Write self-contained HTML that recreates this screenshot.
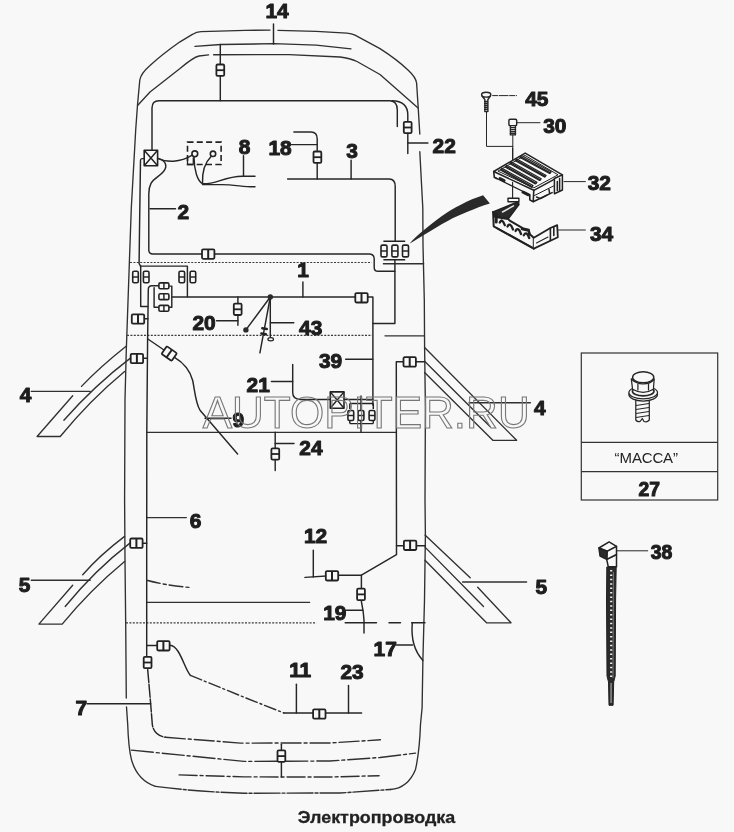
<!DOCTYPE html>
<html lang="ru">
<head>
<meta charset="utf-8">
<title>Электропроводка</title>
<style>
html,body{margin:0;padding:0;background:#f8f8f8;}
body{width:734px;height:832px;overflow:hidden;font-family:"Liberation Sans",sans-serif;}
svg{display:block;position:absolute;left:0;top:0;will-change:transform;}
.b{fill:none;stroke:#303030;stroke-width:1.35;stroke-linecap:round;stroke-linejoin:round;}
.w{fill:none;stroke:#262626;stroke-width:1.45;stroke-linecap:round;stroke-linejoin:round;}
.c{fill:#f8f8f8;stroke:#222;stroke-width:1.6;stroke-linejoin:round;}
.cl{fill:none;stroke:#222;stroke-width:1.45;}
.d{fill:none;stroke:#3c3c3c;stroke-width:1.15;stroke-dasharray:2 1.4;}
.dd{fill:none;stroke:#303030;stroke-width:1.4;stroke-dasharray:9 3 2 3;stroke-linecap:round;}
.n{font-family:"Liberation Sans",sans-serif;font-weight:bold;font-size:20.9px;fill:#1e1e1e;stroke:#1e1e1e;stroke-width:1.05;stroke-linejoin:round;text-anchor:middle;}
.k{fill:#2a2a2a;stroke:none;}
</style>
</head>
<body>
<svg width="734" height="832" viewBox="0 0 734 832">
<defs>
  <g id="ch"><rect class="c" x="-6.2" y="-4.7" width="12.4" height="9.4" rx="1.2" style="stroke-width:1.8"/><path class="cl" d="M0-4.7V4.7" style="stroke-width:2"/></g>
  <g id="cv"><rect class="c" x="-3.9" y="-5.7" width="7.8" height="11.4" rx="1.2" style="stroke-width:1.8"/><path class="cl" d="M-3.9 0H3.9" style="stroke-width:1.8"/></g>
  <g id="cp"><rect class="c" x="-2.8" y="-5.7" width="5.6" height="11.4" rx="1.4"/><path class="cl" d="M-2.8 0H2.8"/></g>
  <g id="ct"><rect class="c" x="-5" y="-2.95" width="10" height="5.9" rx="1.4"/><path class="cl" d="M0-2.95V2.95"/></g>
  <g id="c3"><rect class="c" x="-3" y="-5.9" width="6" height="11.8" rx="1.5"/><path class="cl" d="M-3 0H3"/></g>
  <g id="c3b"><rect class="c" x="-2.9" y="-5" width="5.8" height="10" rx="1.5"/><path class="cl" d="M-2.9 0H2.9"/></g>
</defs>
<!--BODY-->
<g class="b">
  <!-- outer roof + left side + bottom + right side -->
  <path d="M270 30.1 L245.4 30.4 L201 31.7 Q196.3 32 192.8 34.2 L180 41.8 Q162 54.5 150 65.5 Q140.8 73.5 139.8 80 L137.5 105 L135.7 130 L131.3 208 L129.8 250 L126.3 350 L125 400 L124.6 500 L125 560 L125.7 624 L126.3 698 M126.5 707 L127.7 724.3 Q128.5 748 131.4 759.4 Q137 780 155.3 786.4"/>
  <path d="M278 30.4 L316.2 31.4 L347 33.1 Q351.7 33.5 355 35.2 L380 48.6 Q397 59.5 408 70 Q416 77.5 416.6 83 L418.2 107.8 L419.8 134"/>
  <path d="M419.8 151.7 L422.8 208 L423 245 L424.3 300 L424.6 347 L425.4 408 L425 500 L425.4 535 L424.5 600 L422.9 660 L422.1 708 L420.5 724.3 Q419.5 752 415.5 769.4 Q408 788 390.4 789.5"/>
  <!-- second roof line (14) -->
  <path d="M195 46.4 L220.9 44.5 L274 43.7 L316.2 45.1 L351 48.8"/>
  <!-- inner windshield line -->
  <path d="M137.8 105.3 L150 92 L180 68.5 Q193 57.5 199 56 L208.6 54.9"/>
  <path d="M213.6 54.7 L289 54.6 L340 57 Q350 58.2 357 61.5 L380 74.5 L417.8 107.8"/>
  <!-- horizontals inside cabin -->
  <path d="M147 432.3 H396.3"/>
  <path d="M147 602.4 H309.6"/>
  <path d="M147 517.6 H186.4"/>
</g>
<g class="dd">
  <!-- bottom (rear) lines -->
  <path d="M155.3 786.4 Q200 792 244 793.2 L340 793 L390.4 789.5" style="stroke-dasharray:26 2 3 2"/>
  <path d="M131.4 750.1 L244 761.4 L330 761 L380 757.5 L415.5 753.1" style="stroke-dasharray:22 3 3 3"/>
  <path d="M179.1 774.9 L244 776.9 L330 777 L379.1 775.7" style="stroke-dasharray:18 3 3 3"/>
</g>
<g class="d">
  <path d="M130 262.5 H371.6"/>
  <path d="M127 335.3 H372"/>
  <path d="M126 622.9 H316.5"/>
</g>
<g class="b">
  <path d="M383.4 263.7 H423.6"/>
  <path d="M385 335.8 H424.3"/>
</g>
<!--WIRES-->
<g class="w">
  <!-- 14 leader + roof connector -->
  <path d="M273.5 24 V44"/>
  <path d="M220.3 44.5 V100.8"/>
  <!-- upper cabin horizontal with rounded ends -->
  <path d="M152 150 V108 Q152 100.8 159 100.8 H390 Q397.3 101.2 397.3 110 V126.6"/>
  <path d="M392 100.8 Q407.8 101.2 407.8 115 V153.4"/>
  <path d="M407.8 142.9 H427.9"/>
  <!-- X box hook -->
  <path d="M144.2 158.6 H142 Q140.5 158.6 140.5 160.5 L139.5 230 L139.1 263.6 L140.6 266.1"/>
  <!-- X box to dashed box -->
  <path d="M157.8 158.4 C166 162.5 180 163 192.2 155.2"/>
  <!-- wire 2 -->
  <path d="M157.8 158.4 C164 159.5 167 164 165.3 168.5 C163 175 154 177.5 151 183.4 Q148.8 187.5 148.8 194 V250 Q148.8 254 153 254 H369.8 Q374.2 254.4 374.2 258.8 V267.5 Q374.2 271.3 378 271.3 H394.9"/>
  <path d="M150 208.7 H175.5"/>
  <!-- wires from circles (8) -->
  <path d="M194 156.7 C194 170 197.5 181 202.5 183.6"/>
  <path d="M211.3 156.3 C205.5 162 202 172 202.5 183.6"/>
  <path d="M202.5 183.8 C216 184.5 224 176.5 242.5 176.3 L255 176.3"/>
  <path d="M202.5 184.6 L221.5 184.6 C235 184.6 245 187.3 255 186.8"/>
  <path d="M243.5 155.7 V176.3"/>
  <!-- 18 -->
  <path d="M293.9 132 H311 Q317.2 132 317.2 138.8 V178.9"/>
  <path d="M291.4 144.6 H317.2"/>
  <!-- wire 3 -->
  <path d="M287.6 178.9 H389.2 Q395.2 178.9 395.2 186.4 V241.3"/>
  <path d="M351.1 160.1 V178.9"/>
  <!-- below triple connector -->
  <path d="M394.9 259.7 V323.4 H372.9"/>
  <!-- wire 1 -->
  <path d="M171.8 296.9 H372.9 V405"/>
  <path d="M302.9 282 V297"/>
  <!-- node 43 -->
  <path d="M270.3 297 L245.9 329.9"/>
  <path d="M270.3 297 L259.9 352.9"/>
  <path d="M270.3 297 V336.8"/>
  <path d="M270.4 322.8 H293.8"/>
  <!-- 20 -->
  <path d="M237.9 296.9 V325.3"/>
  <path d="M216.5 320.8 H237.9"/>
  <!-- connector pairs -->
  <path d="M140.4 266.1 H187.4 V296.7"/>
  <path d="M140.7 266.1 V306.5 H147.9"/>
  <!-- main left harness (6) -->
  <path d="M158 285.7 H151.8 Q148.3 285.7 148.3 289.5 L147.6 340 L146.8 432 L146.7 560 V655.4"/>
  <path d="M158 307.2 H154.1 V287.6"/>
  <path d="M169.7 286.1 H171.8 V307.2 H169.7"/>
  <path d="M144.5 318.8 H148"/>
  <path d="M143.6 358.3 H147.3"/>
  <path d="M143 543.2 H146.7"/>
  <!-- wire 9 -->
  <path d="M147.9 339 L164 350 M174.5 357.3 C185 363.5 190.5 372 192.7 380.5 C195 392 195.5 403 200 410.2 L237.6 454"/>
  <path d="M205 418.2 H231"/>
  <!-- wire 21 -->
  <path d="M292.7 364.4 V392.6 Q292.7 399.4 300.3 399.4 H372.8 M361 396 V432.3"/>
  <path d="M271.4 381.5 H292.7"/>
  <path d="M345.7 359.2 H372.8"/>
  <!-- 24 -->
  <path d="M275.2 432.3 V470.4"/>
  <path d="M275.2 443.5 H294"/>
  <!-- right side harness -->
  <path d="M424.6 361.8 H396.3 L396.5 554.7 L361.4 575.2 H338 L305 577.4"/>
  <path d="M396.5 545.7 H425.4"/>
  <path d="M313.3 550.1 V577"/>
  <!-- 19 -->
  <path d="M361.4 575.2 V601.5 Q363.6 612 364 620.3 V632.9"/>
  <path d="M346.4 610.3 H362.7"/>
  <!-- 17 -->
  <path d="M412.3 622.8 C410.8 640 415 652 422.9 660.4"/>
  <path d="M396.5 645 H412.6"/>
  <!-- lower-left -->
  <path d="M147.3 645.4 H160"/>
  <path d="M170 645.3 C180 646 184 668 190.4 675.4"/>
  <path d="M283.9 713 H361.6"/>
  <path d="M296.4 684.2 V713"/>
  <path d="M348.5 685.4 V713"/>
  <path d="M147.7 669.6 L150.7 704.2 L152.3 724.3 Q153.6 735 165.3 737.3" style="stroke-dasharray:13 1.8"/>
  <path d="M87.1 703.7 H150.7"/>
  <path d="M281.4 744.3 V776.9"/>
  <!-- leaders 6 handled in body -->
</g>
<g class="dd">
  <path d="M190.4 675.4 L244 697.2 L283.9 713" style="stroke-dasharray:12 3 2 3"/>
  <path d="M165.3 737.3 L240.5 743.1 L330 743 L380.4 739.8" style="stroke-dasharray:20 3 3 3"/>
  <path d="M146.7 580.3 Q165 585.2 188.9 587.4" style="stroke-dasharray:14 3 3 3"/>
</g>
<g class="w">
  <path d="M345.2 622.8 H376.5 M389 622.8 H400.5 M411.7 622.8 H425"/>
</g>
<!-- doors -->
<g class="b">
  <path d="M126.1 346.3 Q100 367 81.5 386.4 M72.7 395.7 L37.1 436.5 H60.2 Q90 400 124.6 371.4"/>
  <path d="M130.4 358.1 Q95 385 63.9 420.2"/>
  <path d="M31.3 391.4 H90.2"/>
  <path d="M424.6 347.5 L516.6 440.3 H492.8 L424.6 372.6"/>
  <path d="M424.6 361.3 L490 426.5"/>
  <path d="M469 402.7 H530.4"/>
  <path d="M124.6 536.4 Q100 555 82.7 574.7 M72.7 585.2 L38.9 624.1 H62.2 Q90 590 124.6 561.4"/>
  <path d="M129.9 543.1 Q95 570 65.2 606.5"/>
  <path d="M31.3 580.2 H90.2"/>
  <path d="M425 535.1 L470.2 577.7 M477.7 587.2 L511 622.8 H486.5 L425 560.2"/>
  <path d="M425 547.1 L483.5 606.5"/>
  <path d="M462.6 582 H526.6"/>
</g>
<!--CONN-->
<g>
  <use href="#cv" x="220.3" y="70.2"/>
  <use href="#cv" x="407.7" y="127.5"/>
  <use href="#cv" x="317.4" y="157.2"/>
  <use href="#ch" x="208.2" y="254.1"/>
  <use href="#ch" x="361.5" y="297.8"/>
  <use href="#cv" x="237.7" y="309.3"/>
  <use href="#cp" x="135.5" y="277"/><use href="#cp" x="146.2" y="277"/>
  <use href="#cp" x="181.8" y="277"/><use href="#cp" x="192.9" y="277"/>
  <use href="#ct" x="163.9" y="285.8"/><use href="#ct" x="163.9" y="296.7"/><use href="#ct" x="163.9" y="308.3"/>
  <use href="#ch" x="138" y="319"/>
  <use href="#ch" x="136.9" y="358.5"/>
  <use href="#ch" x="136.4" y="543.2"/>
  <use href="#ch" transform="translate(169.2 353.6) rotate(35)"/>
  <use href="#cv" x="275.3" y="454"/>
  <use href="#ch" x="409.7" y="361.9"/>
  <use href="#ch" x="410.1" y="545.3"/>
  <use href="#ch" x="332" y="575.8"/>
  <use href="#cv" x="361" y="594.4"/>
  <use href="#ch" x="163.4" y="645.8"/>
  <use href="#cv" x="147.6" y="662.5"/>
  <use href="#ch" x="319.3" y="714"/>
  <use href="#cv" x="281.4" y="756.1"/>
  <!-- triple connectors (horizontal) -->
  <path class="cl" d="M383.4 241.3 H405.2 M383.4 259.7 H405.2"/>
  <use href="#c3" x="384" y="251"/><use href="#c3" x="394.9" y="251"/><use href="#c3" x="405.5" y="251"/>
  <path class="cl" d="M349.8 403.4 H373.3 M349.8 423.6 H373.3 M349.8 403.4 V409 M373.3 403.4 V409 M349.8 423.6 V420 M373.3 423.6 V420"/>
  <use href="#c3b" x="350.8" y="415.5"/><use href="#c3b" x="361" y="415.5"/><use href="#c3b" x="372" y="415.5"/>
  <!-- X boxes -->
  <rect class="c" x="144.2" y="150.2" width="13.4" height="15.6"/><path class="cl" d="M144.2 150.2 L157.6 165.8 M157.6 150.2 L144.2 165.8"/>
  <rect class="c" x="330.3" y="391.9" width="13.7" height="16.3"/><path class="cl" d="M330.3 391.9 L344 408.2 M344 391.9 L330.3 408.2"/>
  <!-- dashed box + circles -->
  <rect x="187.5" y="142.1" width="33.6" height="22.4" fill="none" stroke="#222" stroke-width="1.6" stroke-dasharray="6 3.3"/>
  <path class="cl" d="M193.3 157.5 V164.5 M187.5 158 V164.5 H193.3" style="stroke-width:1.3"/><circle class="c" cx="194.8" cy="153.8" r="2.9"/><circle class="c" cx="213" cy="153.8" r="2.7"/>
  <!-- node dots -->
  <circle class="k" cx="270.3" cy="297" r="2.7"/><circle class="k" cx="245.9" cy="329.9" r="2.7"/>
  <ellipse cx="270.7" cy="339.3" rx="2.8" ry="1.6" fill="#f8f8f8" stroke="#222" stroke-width="1.2"/>
  <path d="M262.3 328.3 L266.8 329 M261.4 333.5 L265.9 334.2" stroke="#222" stroke-width="2.5" stroke-linecap="round" fill="none"/>
</g>
<!--PARTS-->
<!-- wedge pointer -->
<path class="k" d="M409.5 243.8 C414 238.5 418 235 421.8 231.8 C428 227 434 221.5 440.9 216.8 C447 212.5 454 208 461.3 204.5 C468 201 476 197.5 483.1 195.3 L489.9 203.4 C482 205.5 475 208.5 468.1 211.6 C461 214.5 454 217.5 447.7 220.9 C440 225 433 229.3 427.2 233.1 C421 237 415 240.5 409.5 243.8 Z"/>
<!-- MACCA box -->
<g fill="none" stroke="#333" stroke-width="1.2">
  <rect x="581.3" y="353" width="136.4" height="147"/>
  <path d="M581.3 442.4 H717.7 M581.3 471.6 H717.7"/>
</g>
<!-- screw 45 -->
<g class="w">
  <ellipse cx="486.2" cy="94.7" rx="4.6" ry="2.4" fill="#f8f8f8"/>
  <path d="M482 96 L484.8 99.5 V111.5 M490.4 96 L487.9 99.5 V111.5 M484.6 101.5 H488 M484.6 103.5 H488 M484.6 105.5 H488 M484.6 107.5 H488 M484.6 109.5 H488 M484.8 111.6 H487.9" style="stroke-width:1.4"/>
  <path d="M486.5 112 V146.4 H512.8" style="stroke-width:1"/>
  <path d="M492.6 95.6 H516.5" style="stroke-width:1;stroke-dasharray:5 1.5 9 1.5"/>
  <!-- bolt 30 -->
  <rect x="508.9" y="119.2" width="7.8" height="6.4" rx="1.2" fill="#f8f8f8"/>
  <path d="M510.4 125.6 V134.6 M515.4 125.6 V134.6 M510.2 127.6 H515.6 M510.2 129.6 H515.6 M510.2 131.6 H515.6 M510.2 133.4 H515.6 M510.4 134.9 H515.4" style="stroke-width:1.4"/>
  <path d="M512.8 135 V159 M517 122.7 H540" style="stroke-width:1"/>
  <path d="M564 181.6 H585.4 M557.8 230 H585.4" style="stroke-width:1"/>
  <path d="M616.9 550.8 H647.7" style="stroke-width:1"/>
</g>
<!-- box 32 -->
<g stroke="#222" stroke-linejoin="round" stroke-linecap="round">
  <path d="M525.2 153.1 L562.4 174.9 L533.8 190.3 L493.7 171.5 Z" fill="#f8f8f8" stroke-width="1.5"/>
  <path d="M525.3 155.6 L558 174.8 L533.9 187.8 L498.3 171.3 Z" fill="none" stroke-width="1"/>
  <path d="M493.7 171.5 L494.3 177.2 L497.2 178.7 M533.8 190.3 L533.2 201.8 L552.1 192.6 M533.2 201.8 L529.8 199.9 V194.8" fill="none" stroke-width="1.6"/>
  <path d="M494.3 177.2 L529.8 194.8" fill="none" stroke-width="1.2"/>
  <path d="M554.4 178.5 V193.8 L562.4 190 V174.9 Z" fill="#f8f8f8" stroke-width="1.5"/>
  <path d="M557.3 181.5 V190.5 M559.6 178.5 V191" fill="none" stroke-width="1.5"/>
  <path d="M534.5 195.5 L553.5 186" fill="none" stroke-width="1"/>
  <g fill="#f8f8f8" stroke-width="1.15">
    <path d="M521.6 155.6 L551.2 171.8 L549.6 173.5 L520 157.4 Z"/>
    <path d="M516.8 159 L546.2 175.4 L544.6 177.1 L515.2 160.8 Z"/>
    <path d="M511.5 162 L541.2 178.8 L539.6 180.5 L509.9 163.8 Z"/>
    <path d="M506.7 165.3 L537 182.2 L535.4 183.9 L505.1 167.1 Z"/>
    <path d="M502 168.3 L533 185.6 L531.4 187.3 L500.4 170.1 Z"/>
  </g>
  <path d="M521 156.9 L550.2 172.9 M516.2 160.2 L545.2 176.5 M510.9 163.2 L540.2 179.9 M506.1 166.5 L536 183.3 M501.4 169.5 L532 186.7" fill="none" stroke-width="1.5"/>
  <path d="M500 178.6 L504 180.6 M523 192.2 L528.5 194.8" fill="none" stroke-width="3"/>
  <path d="M536.5 197 L540.5 198.6 L547 195.2 M549 189.5 L549.6 193.5" fill="none" stroke-width="1.5"/>
  <path d="M512.6 148 V159.4 M512.6 182.3 V198.4" fill="none" stroke-width="1.1"/>
  <rect x="508" y="198.3" width="10.9" height="3.4" fill="#f8f8f8" stroke-width="1.4"/>
</g>
<!-- bracket 34 -->
<g stroke="#222" stroke-linejoin="round" stroke-linecap="round">
  <path d="M518.3 201.7 L493.1 212 L495.5 217 L508 218.9 L518.9 204.6 Z" fill="#2a2a2a" stroke-width="1.6"/>
  <path d="M502.5 212 L513.5 205.8" stroke="#e6e6e6" stroke-width="1.5" fill="none"/>
  <path d="M493.1 212 L493.7 226.3 L533.8 248.6 L533.8 237.8 L529.5 234 L528.8 229.8 L523.5 228.6 L509.7 220.6 L508 218.9 L495.5 217 Z" fill="#f8f8f8" stroke-width="2"/>
  <path d="M533.8 237.8 L550.4 228 L557.2 225.2 L557.8 237.2 L533.8 248.6" fill="#f8f8f8" stroke-width="1.8"/>
  <path d="M550.4 228 V240.5 M553.8 227 V235.5" fill="none" stroke-width="1.6"/>
  <path d="M536.5 243 L548 237" fill="none" stroke-width="1.1"/>
  <path d="M496.2 214.5 V222" fill="none" stroke-width="3"/>
  <path d="M499.8 222.5 Q502 217.5 504.8 225.2 M507.5 226.5 Q510 221.5 513 229.5 M515.6 231 Q518.2 226 521 234 M523.8 235.3 Q526.5 230.5 529.2 238" fill="none" stroke-width="2.3"/>
  <path d="M497 228.3 L531.5 247.2" fill="none" stroke-width="1.8"/>
  <path d="M522 229 L528.5 230.5 L529.5 234.5" fill="none" stroke-width="2.6"/>
</g>
<!-- bolt 27 -->
<g stroke="#262626" stroke-width="1.25" fill="#f8f8f8" stroke-linejoin="round">
  <path d="M635.8 398 V420 Q638 422.8 640.5 421 L642.3 418.5 L644 421.5 Q647 422.8 649.3 420 V398 Z"/>
  <path d="M636 405.5 L649 403.5 M636 409.5 L649 407.5 M636 413.5 L649 411.5 M636 417.5 L649 415.5" fill="none" stroke-width="1.1"/>
  <ellipse cx="643.2" cy="394.6" rx="14.3" ry="6.4"/>
  <ellipse cx="643.2" cy="392.6" rx="14.3" ry="6.2"/>
  <ellipse cx="643.2" cy="391.3" rx="10.8" ry="4.6" stroke-width="1.6"/>
  <path d="M631.3 378.9 L632.6 389.3 Q643.2 395.5 653.4 389.3 L654.2 378.9 Z"/>
  <path d="M637.9 383.4 V390.4 M648.5 383.4 V390.4" fill="none"/>
  <ellipse cx="643.2" cy="377.2" rx="10.6" ry="5.4" stroke-width="1.4"/>
  <path d="M631.6 379.5 Q637 384 643.2 383.8 Q650 384 654 379.5" fill="none"/>
</g>
<!-- cable tie 38 -->
<g stroke="#222" stroke-linejoin="round">
  <path d="M606.8 567 L606.5 600 L607 676 L608.5 682 L609 705.3 H613.1 L613.7 682 L615.2 676 L615.6 600 L616.2 567 Z" fill="#2a2a2a" stroke-width="1"/>
  <path d="M611.2 570 V680" stroke="#ededed" stroke-width="2.2" stroke-dasharray="1.5 2.9" fill="none"/><path d="M613.4 572 L613 678" stroke="#9a9a9a" stroke-width="0.7" fill="none"/><path d="M611.05 683 V703" stroke="#cfcfcf" stroke-width="0.9" fill="none"/>
  <path d="M606.7 559.4 L608.3 566.8 H616.5 V554.5 Z" fill="#f8f8f8" stroke-width="1.5"/>
  <path d="M598.9 548 L609.1 541.9 L616.5 546.3 L607.1 551.3 Z" fill="#f8f8f8" stroke-width="1.5"/>
  <path d="M607.1 551.3 L616.5 546.3 V554.5 L606.7 559.4 Z" fill="#f8f8f8" stroke-width="1.5"/>
  <path d="M598.9 548 L607.1 551.3 L606.7 559.4 L600.1 556.2 Z" fill="#2a2a2a" stroke-width="1.5"/>
</g>
<!--LABELS-->
<g class="n" transform="translate(0,-0.4)">
  <text x="277" y="18.8">14</text>
  <text x="444.2" y="153.4">22</text>
  <text x="536.8" y="106">45</text>
  <text x="554.8" y="133.7">30</text>
  <text x="599.3" y="190.9">32</text>
  <text x="601.6" y="241">34</text>
  <text x="244.5" y="154.8">8</text>
  <text x="280.1" y="155.1">18</text>
  <text x="352.1" y="158.4">3</text>
  <text x="183.2" y="219.8">2</text>
  <text x="303" y="277.8">1</text>
  <text x="204" y="330.4">20</text>
  <text x="310.7" y="335.4">43</text>
  <text x="330.5" y="368.5">39</text>
  <text x="258.2" y="392.3">21</text>
  <text x="238.2" y="427.7">9</text>
  <text x="310.9" y="455.3">24</text>
  <text x="25.5" y="402.7">4</text>
  <text x="539.8" y="415.2">4</text>
  <text x="195.6" y="528.2">6</text>
  <text x="315.5" y="543.3">12</text>
  <text x="24.5" y="592.3">5</text>
  <text x="541.3" y="594.8">5</text>
  <text x="334.8" y="620.3">19</text>
  <text x="385.2" y="656.7">17</text>
  <text x="300.2" y="677.9">11</text>
  <text x="352" y="679.2">23</text>
  <text x="81.2" y="715.5">7</text>
  <text x="649.2" y="496" style="font-size:19.3px">27</text>
  <text x="661.6" y="559.1" style="font-size:19.4px">38</text>
</g>
<text x="646.3" y="463" font-family="Liberation Sans, sans-serif" font-size="15" fill="#222" text-anchor="middle" textLength="63.5" lengthAdjust="spacingAndGlyphs">“МАССА”</text>
<text x="376.5" y="823.4" font-family="Liberation Sans, sans-serif" font-weight="bold" font-size="17.3" fill="#222" stroke="#222" stroke-width="0.3" text-anchor="middle" textLength="157.5" lengthAdjust="spacingAndGlyphs">Электропроводка</text>
<text x="366.2" y="428.4" font-family="Liberation Sans, sans-serif" font-size="44" fill="none" stroke="#777" stroke-width="1.1" text-anchor="middle" textLength="327" lengthAdjust="spacingAndGlyphs">AUTOPITER.RU</text>
</svg>
</body>
</html>
